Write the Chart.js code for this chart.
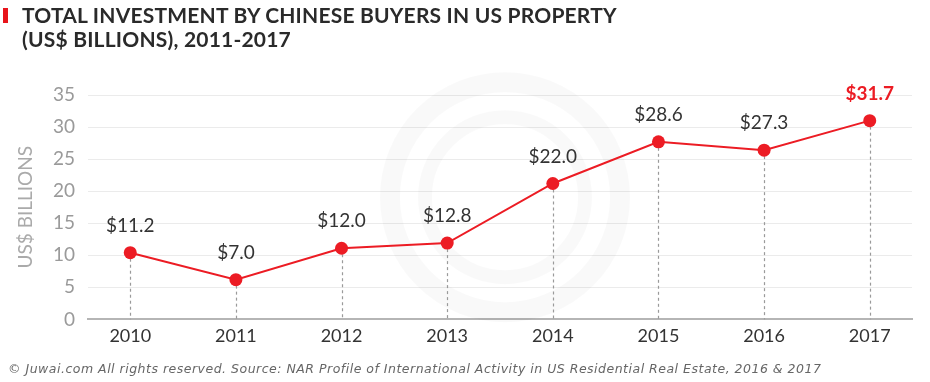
<!DOCTYPE html>
<html><head><meta charset="utf-8">
<script src="https://cdn.jsdelivr.net/npm/chart.js@4.4.1/dist/chart.umd.min.js"></script>
<style>
html,body{margin:0;padding:0;background:#fff;width:930px;height:382px;overflow:hidden;}
#wrap{position:relative;width:930px;height:382px;}
canvas{position:absolute;left:0;top:0;}
#bar{position:absolute;left:3px;top:8px;width:5px;height:15px;background:#e8141b;}
#title{position:absolute;left:22px;top:3px;font-family:Lato,sans-serif;font-weight:700;font-size:21px;line-height:24px;color:#2a2a2a;letter-spacing:0.2px;}
#foot{position:absolute;left:8px;top:361px;font-family:"DejaVu Sans",sans-serif;font-style:italic;font-size:12.5px;letter-spacing:0.5px;color:#666;white-space:nowrap;}
</style></head>
<body><div id="wrap">
<canvas id="c" width="930" height="382"></canvas>
<div id="bar"></div>
<div id="title">TOTAL INVESTMENT BY CHINESE BUYERS IN US PROPERTY<br>(US$ BILLIONS), 2011-2017</div>
<div id="foot">© Juwai.com All rights reserved. Source: NAR Profile of International Activity in US Residential Real Estate, 2016 &amp; 2017</div>
</div>
<script>
const years = [2010, 2011, 2012, 2013, 2014, 2015, 2016, 2017];
const plotted = [10.4, 6.2, 11.1, 11.9, 21.2, 27.7, 26.4, 31.0];
const valueLabels = ['$11.2', '$7.0', '$12.0', '$12.8', '$22.0', '$28.6', '$27.3', '$31.7'];
const yTicks = [0, 5, 10, 15, 20, 25, 30, 35];

const RED = '#ec1c24';

const overlay = {
  id: 'overlay',
  beforeDatasetsDraw(chart) {
    const ctx = chart.ctx, y = chart.scales.y, area = chart.chartArea;
    ctx.save();
    const cx = (area.left + area.right) / 2 + 5, cy = (area.top + area.bottom) / 2 - 10;
    ctx.strokeStyle = 'rgba(0,0,0,0.025)';
    ctx.lineWidth = 20;
    ctx.beginPath(); ctx.arc(cx, cy, 115, 0, Math.PI * 2); ctx.stroke();
    ctx.lineWidth = 14;
    ctx.beginPath(); ctx.arc(cx, cy, 80, 0, Math.PI * 2); ctx.stroke();
    ctx.restore();
    const meta = chart.getDatasetMeta(0);
    ctx.save();
    ctx.strokeStyle = '#9a9a9a';
    ctx.lineWidth = 1.2;
    ctx.setLineDash([3, 3]);
    meta.data.forEach(p => {
      ctx.beginPath();
      ctx.moveTo(Math.round(p.x) + 0.5, p.y);
      ctx.lineTo(Math.round(p.x) + 0.5, y.getPixelForValue(0));
      ctx.stroke();
    });
    ctx.restore();
  },
  afterDatasetsDraw(chart) {
    const ctx = chart.ctx;
    const meta = chart.getDatasetMeta(0);
    ctx.save();
    ctx.textAlign = 'center';
    ctx.textBaseline = 'middle';
    meta.data.forEach((p, i) => {
      const last = i === meta.data.length - 1;
      ctx.font = (last ? '700 ' : '400 ') + '19px Lato, sans-serif';
      ctx.fillStyle = last ? RED : '#333';
      ctx.fillText(valueLabels[i], p.x, p.y - 27);
    });
    ctx.restore();
  }
};

new Chart(document.getElementById('c'), {
  type: 'line',
  data: {
    datasets: [{
      data: years.map((yr, i) => ({ x: yr, y: plotted[i] })),
      borderColor: RED,
      backgroundColor: RED,
      borderWidth: 2,
      pointRadius: 6.5,
      pointBackgroundColor: RED,
      pointBorderWidth: 0,
      tension: 0
    }]
  },
  options: {
    responsive: false,
    animation: false,
    layout: { padding: { top: 95, right: 18, bottom: 29, left: 0 } },
    plugins: { legend: { display: false }, tooltip: { enabled: false } },
    scales: {
      x: {
        type: 'linear',
        min: 2009.6,
        max: 2017.4,
        afterBuildTicks: s => { s.ticks = years.map(v => ({ value: v })); },
        grid: { display: false, drawTicks: false },
        border: { display: true, color: '#b5b5b5', width: 2 },
        ticks: {
          padding: 6,
          color: '#333',
          font: { family: 'Lato, sans-serif', size: 18 },
          callback: v => String(v)
        }
      },
      y: {
        min: 0,
        max: 35,
        afterBuildTicks: s => { s.ticks = yTicks.map(v => ({ value: v })); },
        afterFit: s => { s.width = 88; },
        grid: { color: '#ebebeb', lineWidth: 1, drawTicks: false },
        border: { display: false },
        ticks: {
          padding: 13,
          color: '#9a9a9a',
          font: { family: 'Lato, sans-serif', size: 19 }
        },
        title: {
          display: true,
          text: 'US$ BILLIONS',
          color: '#aaa',
          font: { family: 'Lato, sans-serif', size: 19 },
          padding: { top: 14, bottom: 0 }
        }
      }
    }
  },
  plugins: [overlay]
});
</script>
</body></html>
